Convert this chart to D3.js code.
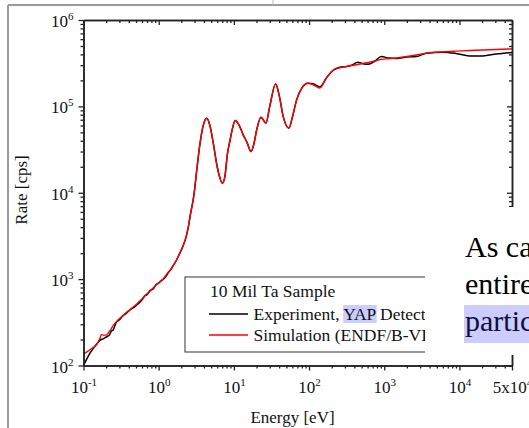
<!DOCTYPE html>
<html><head><meta charset="utf-8">
<script src="https://cdn.jsdelivr.net/npm/d3@7"></script>
<style>
body{margin:0;background:#fff;overflow:hidden;}
svg{display:block;}
text{font-family:"Liberation Serif","Times New Roman",serif;}
</style>
</head><body><svg id="c" width="529" height="428"></svg>
<script>
// ---------- data ----------
const energy = [0.1,0.11,0.122,0.135,0.149,0.165,0.173,0.185,0.202,0.218,0.235,0.248,0.26,0.274,0.29,0.304,0.33,0.37,0.4,0.44,0.47,0.506,0.55,0.6,0.65,0.7,0.77,0.843,0.92,1.0,1.07,1.14,1.25,1.35,1.45,1.55,1.75,1.91,2.12,2.33,2.5,2.64,2.8,2.95,3.21,3.55,3.93,4.36,4.8,5.32,6.0,6.5,7.02,7.6,8.2,8.87,9.6,10.4,11.8,13.3,15,16.9,18.5,20.1,22.9,26.7,30,35.9,40,45.3,54,60,68.3,80,97.3,113,139,171,209,257,315,370,445,520,610,750,918,1150,1450,2000,2680,3630,6040,9000,13600,20500,30900,50000];
const experiment = [100,118,139,158,176,195,200,205,215,222,250,258,285,318,330,342,372,402,428,455,470,500,530,575,640,660,740,770,860,900,950,990,1080,1200,1290,1420,1700,2000,2450,3150,4200,5600,7300,9600,18400,37500,61000,73000,60000,37500,20000,15000,12900,15500,28000,40000,56000,68500,60000,46800,38000,30000,37000,53400,75000,64000,100000,182000,135000,76000,56000,75000,119000,163000,185000,183000,168000,215000,262000,284000,290000,300000,324000,312000,308000,335000,377000,362000,358000,372000,377000,413000,424000,410000,384000,384000,405000,420000];
const simulation = [135,143,152,162,174,205,227,225,225,245,268,290,305,322,338,352,375,410,432,462,485,510,550,590,635,675,730,790,850,910,955,1000,1110,1210,1300,1420,1700,2000,2450,3150,4200,5600,7300,9600,18400,37500,61000,73000,60000,37500,20000,15000,12900,15500,28000,40000,56000,68500,60000,46800,38000,30000,37000,53400,75000,64000,100000,182000,135000,76000,56000,75000,119000,163000,185000,178000,163000,215000,262000,280000,290000,297000,305000,315000,322000,335000,350000,356000,363000,378000,394000,413000,428000,436000,443000,450000,455000,463000];

const xTickValues = [0.1,1,10,100,1000,10000,50000];
const xTickBase = ["10","10","10","10","10","10","5x10"];
const xTickExp = ["-1","0","1","2","3","4","4"];
const yTickValues = [1e2,1e3,1e4,1e5,1e6];
const yTickBase = ["10","10","10","10","10"];
const yTickExp = ["2","3","4","5","6"];
const xTitle = "Energy [eV]";
const yTitle = "Rate [cps]";
const legendTitle = "10 Mil Ta Sample";
const seriesNames = [["Experiment, ","YAP"," Detector"],["Simulation (ENDF/B-VII)"]];
const seriesColors = ["#000000","#ff0000"];
const slideLines = ["As ca","entire","partic"];

const SERIF = '"Liberation Serif","Times New Roman",serif';

// ---------- layout ----------
const svg = d3.select("#c");
const L = 83.5, R = 512, T = 20, B = 365.5;
const x = d3.scaleLog().domain([0.1,5e4]).range([L,R]);
const y = d3.scaleLog().domain([100,1e6]).range([B,T]);

// slide frame
svg.append("line").attr("x1",8).attr("x2",529).attr("y1",5).attr("y2",5).attr("stroke","#9a9a9a").attr("stroke-width",2);
svg.append("line").attr("x1",8).attr("x2",8).attr("y1",5).attr("y2",428).attr("stroke","#9a9a9a").attr("stroke-width",2);
svg.append("line").attr("x1",273).attr("x2",273).attr("y1",0).attr("y2",5).attr("stroke","#bbb").attr("stroke-width",1);

// minor tick values
function minors(lo, hi){
  const out=[];
  for(let d=Math.floor(Math.log10(lo)); d<=Math.ceil(Math.log10(hi)); d++){
    for(let m=2;m<=9;m++){const v=m*Math.pow(10,d); if(v>lo*1.0001 && v<hi*0.9999) out.push(v);}
  }
  return out;
}
const xMin = minors(0.1,5e4);
const yMin = minors(100,1e6);

// curves
const line = d3.line().x((d,i)=>x(energy[i])).y(d=>y(d)).curve(d3.curveMonotoneX);
svg.append("path").datum(experiment).attr("d",line).attr("fill","none").attr("stroke",seriesColors[0]).attr("stroke-width",1.5);
svg.append("path").datum(simulation).attr("d",line).attr("fill","none").attr("stroke",seriesColors[1]).attr("stroke-width",1.4);

// axes
function styleAxis(g){
  g.attr("font-family",SERIF);
  g.selectAll("path,line").attr("stroke","#222").attr("stroke-width",1.3);
  g.selectAll(".domain").attr("stroke-width",1.5);
}
const gb = svg.append("g").attr("transform",`translate(0,${B})`)
  .call(d3.axisBottom(x).tickValues(xTickValues).tickSize(5).tickSizeOuter(0).tickFormat(""));
svg.append("g").attr("transform",`translate(0,${B})`)
  .call(d3.axisBottom(x).tickValues(xMin).tickSize(3).tickSizeOuter(0).tickFormat("")).call(styleAxis);
svg.append("g").attr("transform",`translate(0,${T})`)
  .call(d3.axisTop(x).tickValues(xTickValues).tickSize(-5).tickSizeOuter(0).tickFormat("")).call(styleAxis);
svg.append("g").attr("transform",`translate(0,${T})`)
  .call(d3.axisTop(x).tickValues(xMin).tickSize(-3).tickSizeOuter(0).tickFormat("")).call(styleAxis);
const gl = svg.append("g").attr("transform",`translate(${L},0)`)
  .call(d3.axisLeft(y).tickValues(yTickValues).tickSize(5).tickSizeOuter(0).tickFormat(""));
svg.append("g").attr("transform",`translate(${L},0)`)
  .call(d3.axisLeft(y).tickValues(yMin).tickSize(3).tickSizeOuter(0).tickFormat("")).call(styleAxis);
const gr = svg.append("g").attr("transform",`translate(${R},0)`)
  .call(d3.axisRight(y).tickValues(yTickValues).tickSize(-5).tickSizeOuter(0).tickFormat(""));
svg.append("g").attr("transform",`translate(${R},0)`)
  .call(d3.axisRight(y).tickValues(yMin).tickSize(-3).tickSizeOuter(0).tickFormat("")).call(styleAxis);
[gb,gl,gr].forEach(g=>g.call(styleAxis));

// tick labels
gb.selectAll(".tick").each(function(d,i){
  const t = d3.select(this).append("text").attr("y",27.5).attr("text-anchor","middle")
    .attr("fill","#111").attr("font-size","17px").attr("font-family",SERIF);
  t.append("tspan").text(xTickBase[i]);
  t.append("tspan").attr("dy",-7).attr("font-size","11px").text(xTickExp[i]);
});
gl.selectAll(".tick").each(function(d,i){
  const t = d3.select(this).append("text").attr("x",-10).attr("y",6.5).attr("text-anchor","end")
    .attr("fill","#111").attr("font-size","17px").attr("font-family",SERIF);
  t.append("tspan").text(yTickBase[i]);
  t.append("tspan").attr("dy",-7).attr("font-size","11px").text(yTickExp[i]);
});

// axis titles
svg.append("text").attr("x",292.5).attr("y",423).attr("text-anchor","middle")
  .attr("font-size","17px").attr("font-family",SERIF).attr("fill","#111").text(xTitle);
svg.append("text").attr("transform","translate(27,190) rotate(-90)").attr("text-anchor","middle")
  .attr("font-size","17px").attr("font-family",SERIF).attr("fill","#111").text(yTitle);

// legend (clipped by the overlapping slide text box)
svg.append("clipPath").attr("id","lc").append("rect").attr("x",0).attr("y",0).attr("width",425).attr("height",428);
const lg = svg.append("g").attr("clip-path","url(#lc)");
lg.append("rect").attr("x",185).attr("y",277).attr("width",300).attr("height",75)
  .attr("fill","#fff").attr("stroke","#555").attr("stroke-width",1.2);
lg.append("text").attr("x",210).attr("y",297).attr("font-size","17.5px").attr("font-family",SERIF).attr("fill","#111").text(legendTitle);
seriesNames.forEach((parts,i)=>{
  const yy = 314 + i*21;
  lg.append("line").attr("x1",209).attr("x2",248).attr("y1",yy).attr("y2",yy)
    .attr("stroke",seriesColors[i]).attr("stroke-width",1.5);
  const t = lg.append("text").attr("x",253.5).attr("y",yy+5.5).attr("font-size","17.5px")
    .attr("font-family",SERIF).attr("fill","#111");
  parts.forEach(p=>t.append("tspan").text(p));
  if(parts.length>1){
    const node = t.node();
    const x0 = 253.5 + node.getSubStringLength(0, parts[0].length);
    const w = node.getSubStringLength(parts[0].length, parts[1].length);
    lg.insert("rect", function(){return node;}).attr("x",x0).attr("y",yy-9).attr("width",w+1).attr("height",18)
      .attr("fill","#ccccff");
  }
});

// overlapping slide text box
svg.append("rect").attr("x",425).attr("y",207).attr("width",104).attr("height",148).attr("fill","#fff");
svg.append("rect").attr("x",464).attr("y",305).attr("width",65).attr("height",38).attr("fill","#ccccff");
slideLines.forEach((s,i)=>{
  svg.append("text").attr("x",465).attr("y",257+i*37).attr("font-size","30px").attr("font-family",SERIF)
    .attr("fill", i===2 ? "#10103a" : "#000").text(s);
});
</script>
</body></html>
